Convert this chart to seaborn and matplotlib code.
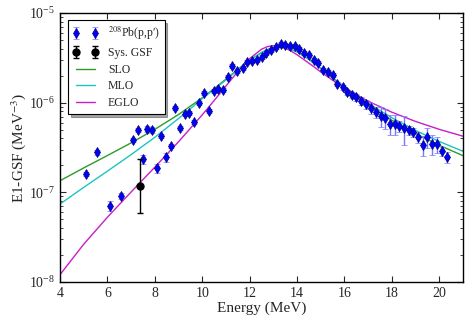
import numpy as np
import pandas as pd
import matplotlib
matplotlib.use("Agg")
import matplotlib.pyplot as plt
import seaborn as sns
from matplotlib.lines import Line2D
from matplotlib.ticker import MultipleLocator

# 208Pb(p,p') E1 strength function
energy = [5.08, 5.58, 6.09, 6.59, 7.10, 7.31, 7.52, 7.69, 7.90, 8.11, 8.28, 8.49, 8.70, 8.87,
          9.08, 9.29, 9.46, 9.67, 9.88, 10.09, 10.30, 10.51, 10.68, 10.89, 11.10, 11.27, 11.48,
          11.74, 11.91, 12.12, 12.33, 12.54, 12.71, 12.92, 13.13, 13.34, 13.51, 13.72, 13.93,
          14.10, 14.31, 14.52, 14.73, 14.90, 15.11, 15.32, 15.53, 15.70, 15.95, 16.12, 16.33,
          16.50, 16.71, 16.92, 17.13, 17.34, 17.55, 17.72, 17.93, 18.14, 18.31, 18.52, 18.73,
          18.90, 19.11, 19.32, 19.49, 19.70, 19.91, 20.12, 20.34]
gsf = [1.60e-7, 2.81e-7, 7.03e-8, 9.10e-8, 3.83e-7, 4.95e-7, 2.35e-7, 5.08e-7, 4.95e-7, 1.87e-7,
       4.25e-7, 2.48e-7, 3.28e-7, 8.71e-7, 5.21e-7, 7.46e-7, 7.66e-7, 6.08e-7, 9.91e-7, 1.28e-6,
       8.05e-7, 1.35e-6, 1.42e-6, 1.38e-6, 1.93e-6, 2.56e-6, 2.25e-6, 2.43e-6, 2.84e-6, 2.91e-6,
       2.99e-6, 3.23e-6, 3.57e-6, 3.86e-6, 4.17e-6, 4.50e-6, 4.39e-6, 4.28e-6, 4.28e-6, 3.96e-6,
       3.57e-6, 3.40e-6, 2.99e-6, 2.76e-6, 2.31e-6, 2.19e-6, 2.03e-6, 1.61e-6, 1.49e-6, 1.31e-6,
       1.22e-6, 1.15e-6, 1.04e-6, 9.64e-7, 8.71e-7, 7.86e-7, 7.09e-7, 6.74e-7, 5.77e-7, 5.77e-7,
       5.48e-7, 5.21e-7, 4.94e-7, 4.70e-7, 4.13e-7, 3.36e-7, 4.13e-7, 3.45e-7, 3.45e-7, 2.88e-7,
       2.48e-7]
# relative uncertainty of each point
rel_err = [0.06, 0.06, 0.13, 0.07, 0.06, 0.06, 0.12, 0.07, 0.07, 0.12, 0.05, 0.12, 0.05, 0.05,
           0.05, 0.05, 0.05, 0.05, 0.05, 0.05, 0.05, 0.05, 0.05, 0.05, 0.05, 0.05, 0.05, 0.05,
           0.05, 0.05, 0.05, 0.05, 0.05, 0.05, 0.05, 0.05, 0.05, 0.05, 0.05, 0.05, 0.05, 0.05,
           0.05, 0.05, 0.05, 0.05, 0.05, 0.05, 0.06, 0.07, 0.08, 0.09, 0.10, 0.12, 0.15, 0.15,
           0.25, 0.25, 0.25, 0.25, 0.15, 0.35, 0.12, 0.12, 0.15, 0.25, 0.25, 0.25, 0.20, 0.12,
           0.15]

# systematics point
sys_energy = [7.37]
sys_gsf = [1.17e-7]
sys_err_low = [5.8e-8]
sys_err_high = [1.18e-7]

# model curves
model_energy = [4, 5, 6, 7, 8, 9, 10, 10.5, 11, 11.5, 12, 12.5, 12.75, 13, 13.25, 13.5, 13.75,
                14, 14.5, 15, 15.5, 16, 17, 18, 19, 20, 21]
slo = [1.348e-7, 1.873e-7, 2.574e-7, 3.563e-7, 5.039e-7, 7.380e-7, 1.133e-6, 1.432e-6, 1.830e-6,
       2.347e-6, 2.977e-6, 3.627e-6, 3.896e-6, 4.082e-6, 4.157e-6, 4.107e-6, 3.942e-6, 3.688e-6,
       3.047e-6, 2.412e-6, 1.884e-6, 1.477e-6, 9.42e-7, 6.37e-7, 4.525e-7, 3.352e-7, 2.567e-7]
mlo = [7.41e-8, 1.136e-7, 1.724e-7, 2.635e-7, 4.115e-7, 6.654e-7, 1.107e-6, 1.41e-6, 1.788e-6,
       2.32e-6, 2.96e-6, 3.62e-6, 3.896e-6, 4.082e-6, 4.157e-6, 4.107e-6, 3.945e-6, 3.695e-6,
       3.06e-6, 2.43e-6, 1.906e-6, 1.511e-6, 9.86e-7, 6.80e-7, 4.905e-7, 3.694e-7, 2.873e-7]
eglo = [1.208e-8, 2.640e-8, 5.278e-8, 1.010e-7, 1.909e-7, 3.664e-7, 7.318e-7, 1.0546e-6, 1.533e-6,
        2.220e-6, 3.100e-6, 3.945e-6, 4.219e-6, 4.330e-6, 4.268e-6, 4.065e-6, 3.768e-6, 3.430e-6,
        2.763e-6, 2.208e-6, 1.783e-6, 1.464e-6, 1.040e-6, 7.835e-7, 6.180e-7, 5.046e-7, 4.231e-7]

models = pd.DataFrame({
    "Energy": model_energy * 3,
    "GSF": slo + mlo + eglo,
    "model": ["SLO"] * len(slo) + ["MLO"] * len(mlo) + ["EGLO"] * len(eglo),
})

sns.set_style("ticks", {"xtick.direction": "in", "ytick.direction": "in"})
plt.rcParams["font.family"] = ["Liberation Serif", "DejaVu Serif"]
plt.rcParams["mathtext.fontset"] = "stix"

fig = plt.figure(figsize=(4.69, 3.26), dpi=100)
ax = fig.add_axes([0.128, 0.135, 0.859, 0.825])
ax.set_yscale("log")

palette = {"SLO": "#2e9a2e", "MLO": "#1cc4c4", "EGLO": "#c81ec8"}
sns.lineplot(data=models, x="Energy", y="GSF", hue="model", palette=palette,
             linewidth=1.0, ax=ax, legend=False, zorder=2)

data_err = np.array(rel_err) * np.array(gsf)
eb = ax.errorbar(energy, gsf, yerr=data_err, fmt="d", color="#0000ff", ms=5,
                 mec="#00007a", mew=0.5, ecolor="#7878ff", elinewidth=1.0,
                 capsize=2.5, zorder=3)
sysb = ax.errorbar(sys_energy, sys_gsf, yerr=[sys_err_low, sys_err_high], fmt="o",
                   color="black", ms=5, elinewidth=1.0, capsize=2.5, zorder=4)

model_handles = [Line2D([], [], color=palette[m], lw=1.0) for m in ["SLO", "MLO", "EGLO"]]
leg = ax.legend([eb, sysb] + model_handles,
                [r"$^{208}$Pb(p,p′)", "Sys. GSF", "SLO", "MLO", "EGLO"],
                loc="upper left", numpoints=2, fontsize=8.5, shadow=True, fancybox=False,
                framealpha=1, edgecolor="black", borderpad=0.4, labelspacing=0.4,
                handlelength=2.2, bbox_to_anchor=(0.005, 0.995))
leg.get_frame().set_linewidth(0.8)

ax.set_xlim(4, 21)
ax.set_ylim(1e-8, 1e-5)
ax.xaxis.set_major_locator(MultipleLocator(2))
ax.tick_params(which="both", top=True, right=True, direction="in", labelsize=10)
ax.tick_params(which="major", length=4)
ax.tick_params(which="minor", length=2)
ax.set_xlabel("Energy (MeV)", fontsize=11, labelpad=1)
ax.set_ylabel(r"E1-GSF (MeV$^{-3}$)", fontsize=11, labelpad=1)
for s in ax.spines.values():
    s.set_linewidth(1.0)
    s.set_color("black")

fig.savefig("out.png", dpi=100)
